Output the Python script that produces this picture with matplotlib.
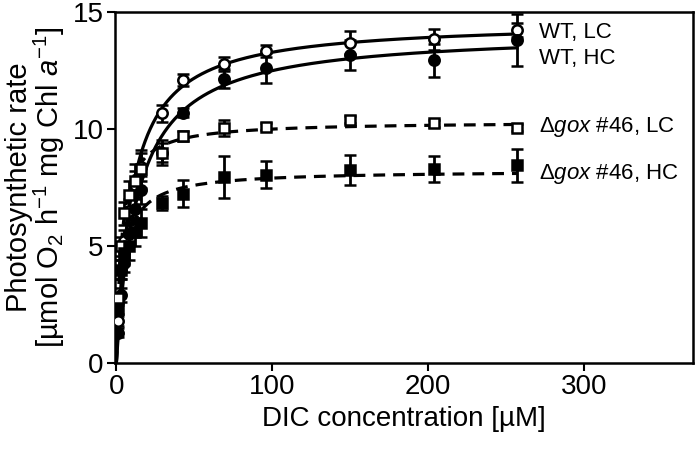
import numpy as np
import matplotlib
matplotlib.use("Agg")
import matplotlib.pyplot as plt

plt.rcParams['font.family'] = ['Liberation Sans', 'DejaVu Sans']
plt.rcParams['mathtext.fontset'] = 'custom'
plt.rcParams['mathtext.rm'] = 'Liberation Sans'
plt.rcParams['mathtext.it'] = 'Liberation Sans:italic'

# DIC concentration (uM)
dic = np.array([1, 3, 5, 8, 12, 16, 29, 43, 69, 96, 150, 204, 257])

wt_lc = np.array([1.8, 4.0, 5.2, 6.5, 7.6, 8.4, 10.67, 12.1, 12.8, 13.35, 13.7, 13.85, 14.25])
wt_lc_err = np.array([0.2, 0.4, 0.5, 0.5, 0.6, 0.6, 0.35, 0.26, 0.3, 0.25, 0.5, 0.45, 0.3])

wt_hc = np.array([1.3, 2.9, 4.3, 5.5, 6.6, 7.4, 9.0, 10.7, 12.15, 12.6, 13.15, 12.95, 13.8])
wt_hc_err = np.array([0.2, 0.3, 0.4, 0.5, 0.5, 0.6, 0.53, 0.2, 0.4, 0.64, 0.64, 0.7, 1.1])

gox_lc = np.array([2.8, 5.0, 6.4, 7.2, 7.8, 8.3, 9.0, 9.7, 10.05, 10.1, 10.4, 10.25, 10.05])
gox_lc_err = np.array([0.2, 0.4, 0.5, 0.6, 0.7, 0.8, 0.4, 0.2, 0.36, 0.15, 0.15, 0.15, 0.15])

gox_hc = np.array([2.3, 4.0, 4.7, 5.0, 5.6, 6.0, 6.85, 7.25, 7.95, 8.05, 8.25, 8.3, 8.45])
gox_hc_err = np.array([0.2, 0.4, 0.5, 0.6, 0.6, 0.6, 0.3, 0.57, 0.9, 0.58, 0.64, 0.55, 0.71])

labels = ['WT, LC', 'WT, HC', r'$\Delta\mathit{gox}$ #46, LC', r'$\Delta\mathit{gox}$ #46, HC']
label_y = [14.15, 13.0, 10.1, 8.1]


def mm_fit(x, y):
    # Michaelis-Menten fit, Vmax solved for each K on a grid
    best = None
    for k in np.linspace(0.5, 60, 3000):
        f = x / (k + x)
        v = (f @ y) / (f @ f)
        err = ((y - v * f) ** 2).sum()
        if best is None or err < best[0]:
            best = (err, v, k)
    return best[1], best[2]


fig = plt.figure(figsize=(7, 4.5), dpi=100)
ax = fig.add_axes([0.164, 0.193, 0.826, 0.780])

xs = np.linspace(0, 257, 600)
series = [
    (wt_lc, wt_lc_err, 'o', 'white', '-'),
    (wt_hc, wt_hc_err, 'o', 'black', '-'),
    (gox_lc, gox_lc_err, 's', 'white', (0, (3.7, 2.5))),
    (gox_hc, gox_hc_err, 's', 'black', (0, (3.7, 2.5))),
]
for y, e, m, fc, ls in series:
    v, k = mm_fit(dic, y)
    ax.plot(xs, v * xs / (k + xs), color='black', lw=2.3, ls=ls, zorder=2)
    ax.errorbar(dic, y, yerr=e, fmt=m, ms=7.5, mfc=fc, mec='black', mew=1.8,
                ecolor='black', elinewidth=2, capsize=4.5, capthick=2, zorder=3)

for lab, ly in zip(labels, label_y):
    ax.text(271, ly, lab, fontsize=16, va='center', ha='left')

ax.set_xlim(-1, 370)
ax.set_ylim(0, 15)
ax.set_xticks([0, 100, 200, 300])
ax.set_yticks([0, 5, 10, 15])
for s in ax.spines.values():
    s.set_linewidth(1.8)
ax.tick_params(direction='out', length=6, width=1.5, labelsize=20, pad=2)
ax.set_xlabel('DIC concentration [µM]', fontsize=20, labelpad=4)
ax.set_ylabel('Photosynthetic rate\n' + r'[µmol O$_2$ h$^{-1}$ mg Chl $\mathit{a}^{-1}$]',
              fontsize=21, linespacing=0.95, labelpad=4)

fig.savefig('out.png', dpi=100)
